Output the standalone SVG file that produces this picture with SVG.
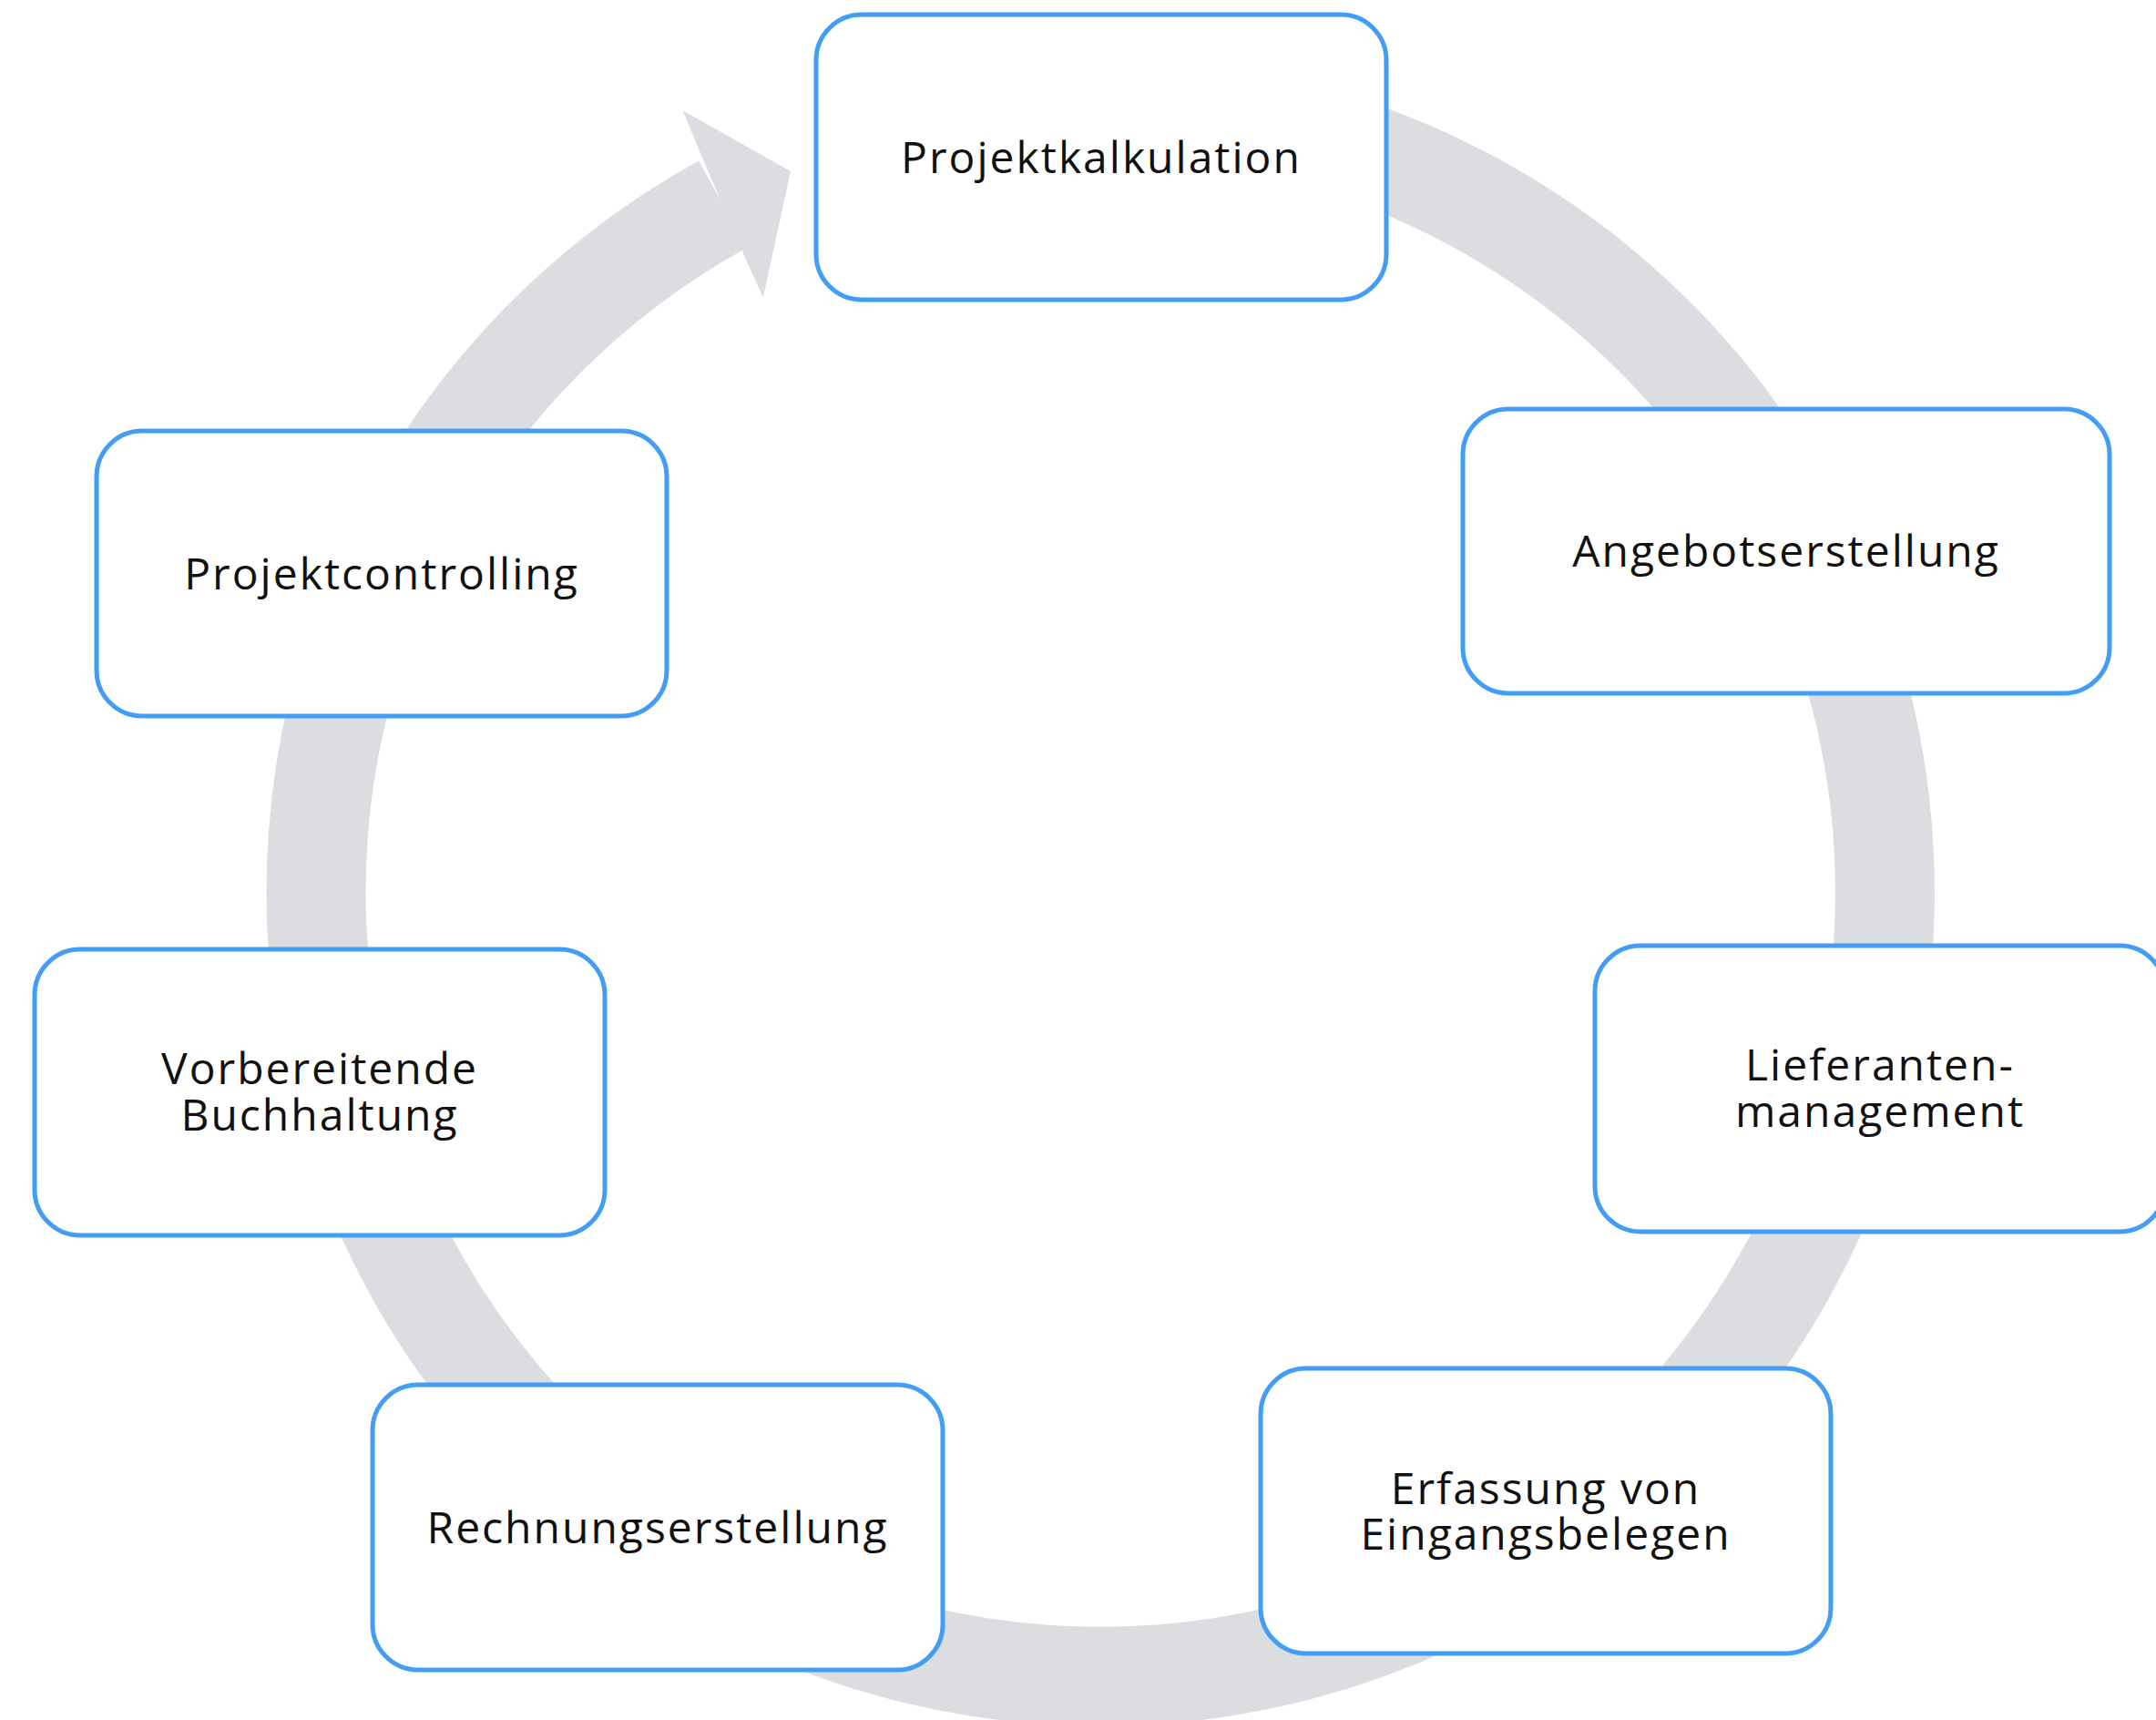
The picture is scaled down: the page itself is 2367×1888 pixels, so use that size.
<svg xmlns="http://www.w3.org/2000/svg" width="2367" height="1888" viewBox="0 0 2367 1888">
<style>
.box{fill:#ffffff;stroke:#449df5;stroke-width:5}
.lbl{font-family:"Open Sans","Noto Sans","Liberation Sans",sans-serif;font-size:48px;letter-spacing:2px;fill:#111111;text-anchor:middle}
.ring{fill:none;stroke:#dcdde0;stroke-width:109;stroke-linecap:butt}
</style>
<rect width="2367" height="1888" fill="#ffffff"/>
<g id="connectors">
<path class="ring" d="M 1058.9 130.9 A 861.2 861.2 0 1 1 793.5 224.3"/>
<polygon fill="#dcdde0" points="771.6,174.4 749.5,121.3 868,188 837.8,326.6 814.3,274.4"/>
</g>
<g id="n1"><rect class="box" x="896" y="16" width="626" height="313" rx="50"/><text class="lbl" x="1209" y="190">Projektkalkulation</text></g>
<g id="n2"><rect class="box" x="1606" y="449" width="710" height="312" rx="50"/><text class="lbl" x="1961" y="622">Angebotserstellung</text></g>
<g id="n3"><rect class="box" x="1751" y="1038" width="626" height="314" rx="50"/><text class="lbl" x="2064" y="1186">Lieferanten-</text><text class="lbl" x="2064" y="1237">management</text></g>
<g id="n4"><rect class="box" x="1384" y="1502" width="626" height="313" rx="50"/><text class="lbl" x="1697" y="1651">Erfassung von</text><text class="lbl" x="1697" y="1701">Eingangsbelegen</text></g>
<g id="n5"><rect class="box" x="409" y="1520" width="626" height="313" rx="50"/><text class="lbl" x="722" y="1694">Rechnungserstellung</text></g>
<g id="n6"><rect class="box" x="38" y="1042" width="626" height="314" rx="50"/><text class="lbl" x="351" y="1190">Vorbereitende</text><text class="lbl" x="351" y="1241">Buchhaltung</text></g>
<g id="n7"><rect class="box" x="106" y="473" width="626" height="313" rx="50"/><text class="lbl" x="419" y="647">Projektcontrolling</text></g>
</svg>
